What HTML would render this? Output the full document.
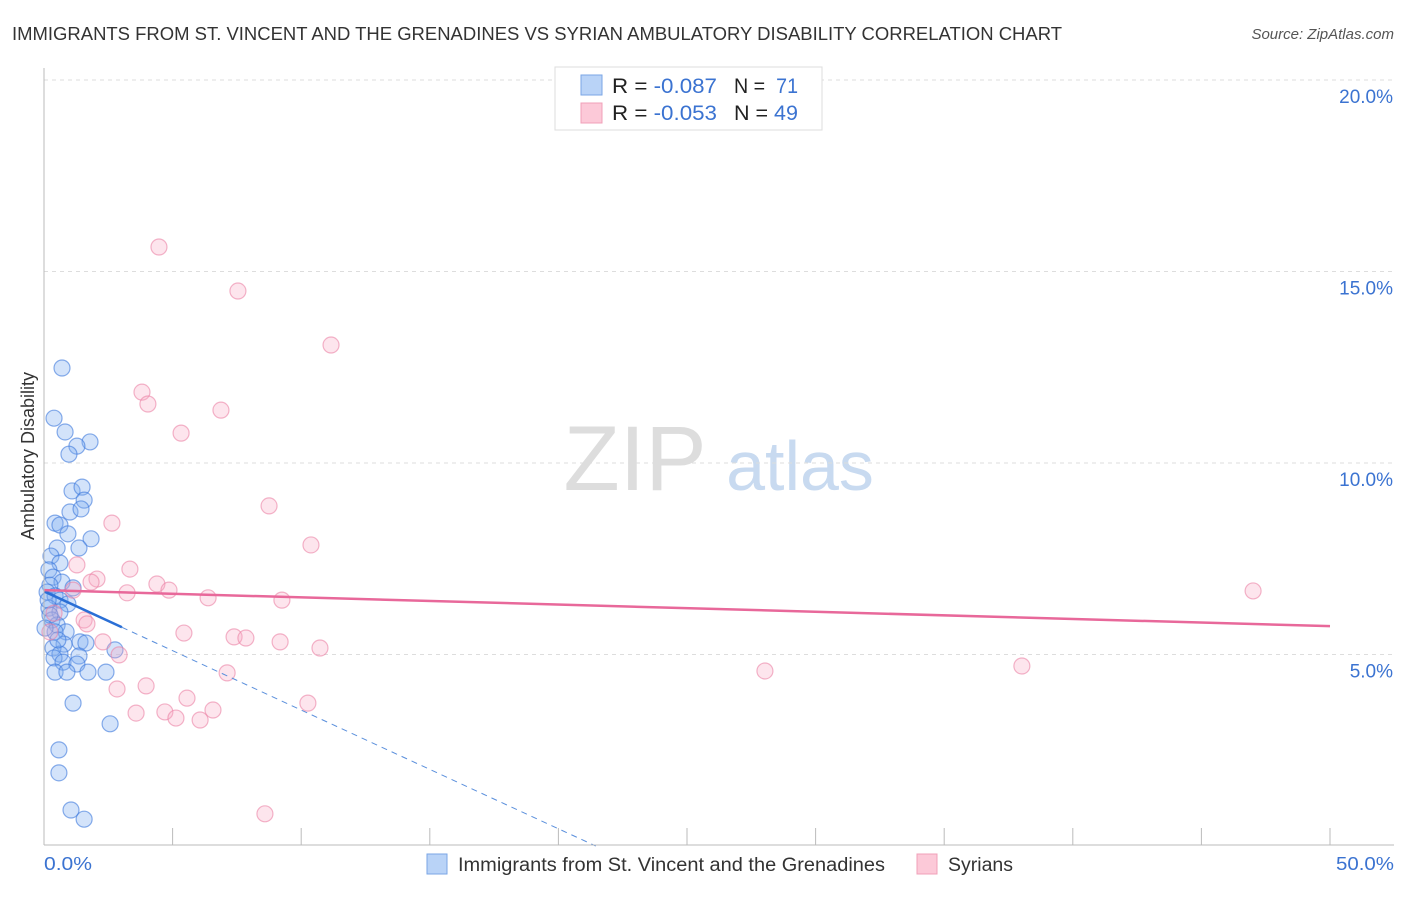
<!DOCTYPE html>
<html><head><meta charset="utf-8"><style>
body{margin:0;background:#fff;font-family:"Liberation Sans",sans-serif;}
svg text{font-family:"Liberation Sans",sans-serif;}
</style></head><body>
<svg id="chart" width="1406" height="892" viewBox="0 0 1406 892" xmlns="http://www.w3.org/2000/svg">
<text x="12" y="40" font-size="18" fill="#333" textLength="1050" lengthAdjust="spacingAndGlyphs">IMMIGRANTS FROM ST. VINCENT AND THE GRENADINES VS SYRIAN AMBULATORY DISABILITY CORRELATION CHART</text>
<text x="1394" y="39" font-size="15" fill="#555" font-style="italic" text-anchor="end">Source: ZipAtlas.com</text>
<text x="34" y="456" font-size="18" fill="#333" text-anchor="middle" transform="rotate(-90 34 456)">Ambulatory Disability</text>
<g><text x="635" y="490" font-size="92" fill="#ddd" font-family="Liberation Serif" text-anchor="middle">ZIP</text><text x="800" y="490" font-size="70" fill="#c8daf0" text-anchor="middle">atlas</text></g>
<g id="grid"></g><g id="ticks"></g><g id="marks"></g>
<line x1="44" y1="68" x2="44" y2="845" stroke="#bbb"/>
<line x1="44" y1="845" x2="1394" y2="845" stroke="#bbb"/>
<text x="44" y="870" font-size="18" fill="#3b73d1" textLength="48" lengthAdjust="spacingAndGlyphs">0.0%</text>
<text x="1336" y="870" font-size="18" fill="#3b73d1" textLength="58" lengthAdjust="spacingAndGlyphs">50.0%</text>
<g>
<rect x="555" y="67" width="267" height="63" fill="#fff" stroke="#ddd"/>
<rect x="581" y="75" width="21" height="20" fill="#b9d3f7" stroke="#7aa6e6"/>
<rect x="581" y="103" width="21" height="20" fill="#fcc9d8" stroke="#f0a0b8"/>
<text x="612" y="93" font-size="21" fill="#222" textLength="105" lengthAdjust="spacingAndGlyphs">R = <tspan fill="#3b73d1">-0.087</tspan></text>
<text x="734" y="93" font-size="21" fill="#222" textLength="64" lengthAdjust="spacingAndGlyphs">N = <tspan fill="#3b73d1" dx="6">71</tspan></text>
<text x="612" y="120" font-size="21" fill="#222" textLength="105" lengthAdjust="spacingAndGlyphs">R = <tspan fill="#3b73d1">-0.053</tspan></text>
<text x="734" y="120" font-size="21" fill="#222" textLength="64" lengthAdjust="spacingAndGlyphs">N = <tspan fill="#3b73d1">49</tspan></text>
</g>
<g><rect x="427" y="854" width="20" height="20" fill="#b9d3f7" stroke="#7aa6e6"/><text x="458" y="871" font-size="19" fill="#333" textLength="427" lengthAdjust="spacingAndGlyphs">Immigrants from St. Vincent and the Grenadines</text></g>
<g><rect x="917" y="854" width="20" height="20" fill="#fcc9d8" stroke="#f0a0b8"/><text x="948" y="871" font-size="19" fill="#333" textLength="65" lengthAdjust="spacingAndGlyphs">Syrians</text></g>
</svg>
<script>
const yTicks=[5,10,15,20];
const yTickLabels=["5.0%","10.0%","15.0%","20.0%"];
const xTicks=[5,10,15,20,25,30,35,40,45,50];
const blueX=[0.70,0.39,0.82,1.79,1.28,0.97,1.09,1.48,1.56,1.01,1.44,0.43,0.62,1.83,0.93,1.36,0.51,0.27,0.62,0.19,0.35,0.70,1.13,0.23,0.12,0.43,0.62,0.93,0.19,0.62,0.31,0.51,0.86,0.43,1.40,0.78,0.35,1.63,0.62,1.36,0.39,0.74,1.28,1.71,0.43,0.89,2.41,2.76,1.13,2.57,0.58,0.58,1.05,1.56,0.16,0.23,0.54,0.04];
const blueY=[12.48,11.17,10.81,10.55,10.44,10.23,9.27,9.37,9.03,8.72,8.80,8.43,8.38,8.02,8.15,7.78,7.78,7.57,7.39,7.21,7.02,6.89,6.74,6.81,6.63,6.53,6.42,6.32,6.21,6.11,5.90,5.77,5.59,5.59,5.33,5.27,5.17,5.30,5.01,4.96,4.91,4.80,4.75,4.54,4.54,4.54,4.54,5.12,3.73,3.19,2.51,1.91,0.94,0.70,6.42,6.03,5.38,5.69];
const pinkX=[4.47,7.54,11.16,3.81,4.04,6.88,5.33,8.75,2.64,10.38,3.34,1.28,2.06,1.83,4.39,3.23,4.86,6.38,9.25,1.13,0.39,1.56,1.67,5.44,7.39,7.85,2.29,9.18,10.73,2.92,7.12,3.97,2.84,5.56,10.26,4.70,6.57,3.58,5.13,6.07,8.59,28.03,38.02,47.01,0.23];
const pinkY=[15.64,14.49,13.08,11.85,11.54,11.38,10.78,8.88,8.43,7.86,7.23,7.34,6.97,6.89,6.84,6.61,6.68,6.48,6.42,6.68,6.08,5.90,5.80,5.56,5.46,5.43,5.33,5.33,5.17,4.99,4.52,4.18,4.10,3.86,3.73,3.50,3.55,3.47,3.34,3.29,0.84,4.57,4.70,6.66,5.59];
const blueTrend=[6.65,-0.31];
const pinkTrend=[6.68,-0.0188];
const sx=v=>44+v*25.72, sy=v=>846-v*38.3;
const NS="http://www.w3.org/2000/svg";
function mk(tag,attrs,parent){const e=document.createElementNS(NS,tag);for(const k in attrs)e.setAttribute(k,attrs[k]);document.getElementById(parent).appendChild(e);return e;}
yTicks.forEach((t,i)=>{
 const l=mk('line',{x1:44,x2:1394,y1:sy(t),y2:sy(t),stroke:'#ddd','stroke-dasharray':'4,4'},'grid');
 
 
 const tx=mk('text',{x:1393,y:sy(t)+23,'font-size':19,fill:'#3b73d1','text-anchor':'end'},'grid');
 tx.textContent=yTickLabels[i];
 
 
});
xTicks.forEach(t=>{
 const l=mk('line',{x1:sx(t),x2:sx(t),y1:828,y2:845,stroke:'#bbb'},'ticks');
 
 
});
blueX.forEach((x,i)=>{
 const c=mk('circle',{cx:sx(x),cy:sy(blueY[i]),r:8,fill:'rgba(130,176,240,0.35)',stroke:'rgba(60,120,220,0.6)','stroke-width':1.2},'marks');
 
 
});
pinkX.forEach((x,i)=>{
 const c=mk('circle',{cx:sx(x),cy:sy(pinkY[i]),r:8,fill:'rgba(248,170,195,0.3)',stroke:'rgba(235,130,165,0.6)','stroke-width':1.2},'marks');
 
 
});
const bx0=0,bx1=3.03,bx2=-blueTrend[0]/blueTrend[1];
const bl=mk('line',{x1:sx(bx0),y1:sy(blueTrend[0]),x2:sx(bx1),y2:sy(blueTrend[0]+blueTrend[1]*bx1),stroke:'#2a6fd6','stroke-width':2.5},'marks');


const bd=mk('line',{x1:sx(bx1),y1:sy(blueTrend[0]+blueTrend[1]*bx1),x2:sx(bx2),y2:sy(0),stroke:'#5a8fdc','stroke-width':1,'stroke-dasharray':'6,5'},'marks');


const pl=mk('line',{x1:sx(0),y1:sy(pinkTrend[0]),x2:sx(50),y2:sy(pinkTrend[0]+pinkTrend[1]*50),stroke:'#e8689a','stroke-width':2.5},'marks');


</script>
</body></html>
